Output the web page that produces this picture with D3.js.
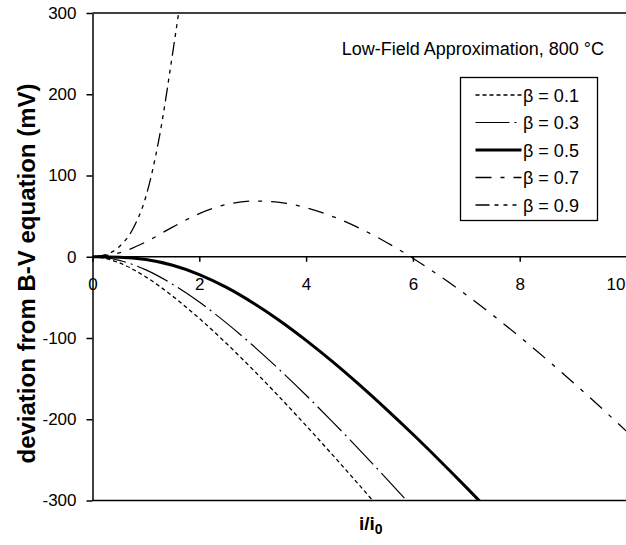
<!DOCTYPE html>
<html>
<head>
<meta charset="utf-8">
<script src="https://cdn.jsdelivr.net/npm/d3@7"></script>
<style>
  body { margin: 0; background: #fff; }
  svg { display: block; font-family: "Liberation Sans", Arial, sans-serif; }
</style>
</head>
<body>
<div id="chart"></div>
<script>
// values (i/i0 vs deviation in mV)
const beta01X = [0, 0.25, 0.5, 1, 1.5, 2, 2.5, 3, 3.5, 4, 4.5, 5, 5.5];
const beta01Y = [0, -2.2, -7.4, -24.9, -48.5, -75.9, -106.2, -138.6, -172.6, -207.9, -244.2, -281.4, -319.1];

const beta03X = [0, 0.25, 0.5, 1, 1.5, 2, 2.5, 3, 3.5, 4, 4.5, 5, 5.5, 6];
const beta03Y = [0, -1.2, -4.4, -16.2, -33.9, -55.8, -81.1, -109.0, -138.9, -170.5, -203.5, -237.6, -272.7, -308.6];

const beta05X = [0, 0.5, 1, 1.5, 2, 2.5, 3, 3.5, 4, 4.5, 5, 5.5, 6, 6.5, 7, 7.5];
const beta05Y = [0, -0.5, -3.5, -10.5, -21.9, -37.4, -56.5, -78.4, -102.9, -129.4, -157.7, -187.5, -218.5, -250.7, -283.8, -317.7];

const beta07X = [0, 0.5, 1, 1.5, 2, 2.5, 3, 3.5, 4, 4.5, 5, 5.5, 6, 6.5, 7, 7.5, 8, 8.5, 9, 9.5, 10];
const beta07Y = [0, 4.7, 18.3, 36.5, 53.1, 64.2, 68.6, 67.0, 60.4, 49.5, 35.2, 17.9, -1.8, -23.5, -47.0, -72.1, -98.5, -126.1, -154.8, -184.4, -214.8];

const beta09X = [0, 0.25, 0.5, 0.75, 1, 1.25, 1.5, 1.6, 1.75];
const beta09Y = [0, 2.6, 12.4, 33.5, 74.2, 146.7, 250.1, 294.4, 359.0];

const seriesLabels = ["β = 0.1", "β = 0.3", "β = 0.5", "β = 0.7", "β = 0.9"];
const xTicks = [0, 2, 4, 6, 8, 10];
const yTicks = [-300, -200, -100, 0, 100, 200, 300];

const width = 626;
const height = 545;

const series = [
  { label: seriesLabels[0], xs: beta01X, ys: beta01Y, dash: "4,3", w: 1.3 },
  { label: seriesLabels[1], xs: beta03X, ys: beta03Y, dash: "34,5,2,5", w: 1.2 },
  { label: seriesLabels[2], xs: beta05X, ys: beta05Y, dash: null, w: 3 },
  { label: seriesLabels[3], xs: beta07X, ys: beta07Y, dash: "16,9,4,9", w: 1.3 },
  { label: seriesLabels[4], xs: beta09X, ys: beta09Y, dash: "14,5,4,5,4,5,4,5", w: 1.3 }
];

const x = d3.scaleLinear().domain([0, 10]).range([92.5, 626.5]);
const y = d3.scaleLinear().domain([-300, 300]).range([500.5, 13]);

const svg = d3.select("#chart").append("svg").attr("width", width).attr("height", height);

svg.append("clipPath").attr("id", "plot-clip")
  .append("rect")
  .attr("x", x(0)).attr("y", y(300))
  .attr("width", width - x(0)).attr("height", y(-300) - y(300));

// frame top / bottom
svg.append("line")
  .attr("x1", x(0)).attr("x2", width).attr("y1", y(300)).attr("y2", y(300))
  .attr("stroke", "#000").attr("stroke-width", 1.5);
svg.append("line")
  .attr("x1", x(0)).attr("x2", width).attr("y1", y(-300)).attr("y2", y(-300))
  .attr("stroke", "#000").attr("stroke-width", 1.5);

const yAxis = svg.append("g")
  .attr("transform", `translate(${x(0)},0)`)
  .call(d3.axisLeft(y).tickValues(yTicks).tickSize(6).tickSizeOuter(0).tickPadding(10).tickFormat((d) => String(d)));

const xAxis = svg.append("g")
  .attr("transform", `translate(0,${y(0)})`)
  .call(d3.axisBottom(x).tickValues(xTicks).tickSize(5).tickSizeOuter(0).tickPadding(16).tickFormat((d) => String(d)));

[yAxis, xAxis].forEach((g) => {
  g.selectAll("path.domain").attr("stroke", "#000").attr("stroke-width", 1.5);
  g.selectAll(".tick line").attr("stroke", "#000").attr("stroke-width", 1.5);
  g.selectAll(".tick text")
    .attr("fill", "#000")
    .style("font-size", "17px")
    .style("font-family", "'Liberation Sans', Arial, sans-serif");
});
xAxis.select("path.domain").attr("d", `M${x(0)},0H${width}`);
// last x label pulled inside the picture
xAxis.selectAll(".tick text").filter((d) => d === 10).attr("dx", -11);

const line = d3.line()
  .x((d) => x(d[0]))
  .y((d) => y(d[1]))
  .curve(d3.curveMonotoneX);

svg.append("g")
  .attr("clip-path", "url(#plot-clip)")
  .selectAll("path")
  .data(series)
  .enter()
  .append("path")
  .attr("d", (s) => line(s.xs.map((v, i) => [v, s.ys[i]])))
  .attr("fill", "none")
  .attr("stroke", "#000")
  .attr("stroke-width", (s) => s.w)
  .attr("stroke-dasharray", (s) => s.dash);

// title
svg.append("text")
  .attr("x", 604).attr("y", 55)
  .attr("text-anchor", "end")
  .style("font-size", "18px")
  .text("Low-Field Approximation, 800 °C");

// legend
const legend = svg.append("g");
legend.append("rect")
  .attr("x", 460.5).attr("y", 77.5)
  .attr("width", 137).attr("height", 143)
  .attr("fill", "#fff").attr("stroke", "#000").attr("stroke-width", 1.3);

const rowY = (i) => 95 + i * 27.5;
const items = legend.selectAll(".legend-item")
  .data(series)
  .enter()
  .append("g")
  .attr("class", "legend-item")
  .attr("transform", (d, i) => `translate(0,${rowY(i)})`);

items.append("line")
  .attr("x1", 475.5).attr("x2", 521.5)
  .attr("y1", 0).attr("y2", 0)
  .attr("stroke", "#000")
  .attr("stroke-width", (s) => s.w)
  .attr("stroke-dasharray", (s) => s.dash);

items.append("text")
  .attr("x", 523).attr("y", 6.5)
  .style("font-size", "18px")
  .text((s) => s.label);

// axis titles
svg.append("text")
  .attr("transform", "translate(34.5,273.5) rotate(-90)")
  .attr("text-anchor", "middle")
  .style("font-size", "24px")
  .style("font-weight", "bold")
  .text("deviation from B-V equation (mV)");

const xt = svg.append("text")
  .attr("x", 359).attr("y", 530)
  .style("font-size", "19px")
  .style("font-weight", "bold");
xt.append("tspan").text("i/i");
xt.append("tspan").attr("dy", 4).style("font-size", "14px").text("0");
</script>
</body>
</html>
